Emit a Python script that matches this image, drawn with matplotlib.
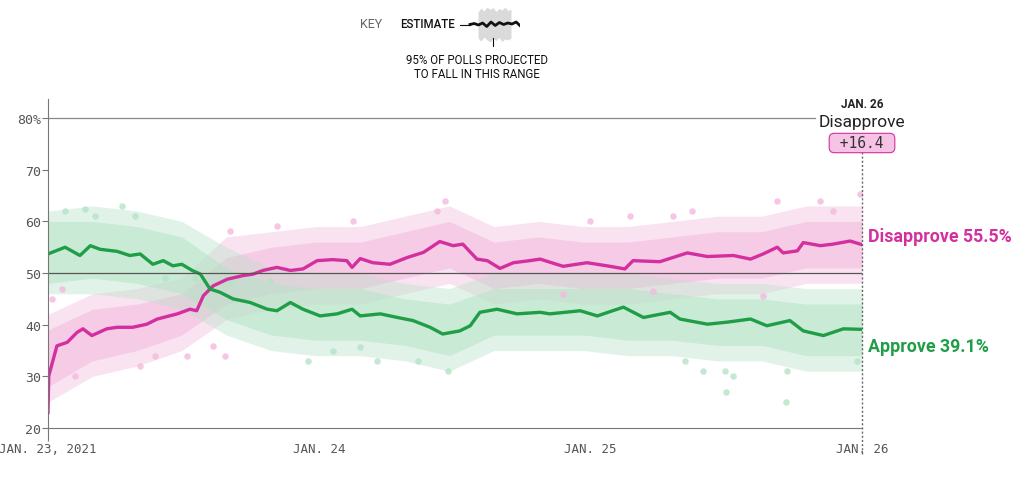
import matplotlib
matplotlib.use("Agg")
import matplotlib.pyplot as plt

# estimate lines (days since Jan 23, 2021 -> percent)
approve_days = [0, 23, 43, 57, 70, 93, 110, 124, 141, 155, 168, 180, 194, 205, 218, 231,
                249, 272, 295, 308, 326, 343, 366, 389, 409, 420, 447, 470, 491, 514, 531,
                554, 568, 581, 604, 631, 662, 675, 716, 739, 774, 801, 837, 850, 887, 914,
                945, 967, 998, 1016, 1043, 1070, 1095]
approve = [53.7, 55.0, 53.4, 55.3, 54.6, 54.2, 53.4, 53.7, 51.7, 52.4, 51.4, 51.7, 50.5,
           49.8, 46.9, 46.3, 45.0, 44.3, 43.0, 42.7, 44.3, 43.0, 41.7, 42.1, 43.0, 41.7,
           42.1, 41.4, 40.8, 39.5, 38.2, 38.8, 39.8, 42.4, 43.0, 42.1, 42.4, 42.1, 42.7,
           41.7, 43.4, 41.4, 42.4, 41.1, 40.1, 40.5, 41.1, 39.8, 40.8, 38.8, 37.9, 39.2, 39.1]

disapprove_days = [0, 1, 12, 26, 39, 47, 59, 79, 93, 114, 133, 147, 174, 191, 200, 209, 222,
                   241, 262, 276, 289, 308, 326, 343, 362, 383, 402, 409, 420, 437, 460, 483,
                   505, 527, 545, 558, 577, 591, 608, 626, 648, 662, 693, 725, 752, 776, 787,
                   823, 860, 887, 922, 945, 962, 981, 989, 1008, 1016, 1039, 1056, 1079, 1095]
disapprove = [23.0, 30.1, 35.9, 36.6, 38.5, 39.2, 37.9, 39.2, 39.5, 39.5, 40.1, 41.1, 42.1,
              43.0, 42.7, 45.6, 47.5, 48.8, 49.5, 49.8, 50.5, 51.1, 50.5, 50.8, 52.4, 52.6,
              52.4, 51.1, 52.8, 52.0, 51.7, 53.0, 54.0, 56.1, 55.3, 55.6, 52.7, 52.4, 50.9,
              52.0, 52.4, 52.7, 51.3, 52.0, 51.4, 50.8, 52.4, 52.2, 53.9, 53.2, 53.4, 52.7,
              53.7, 55.0, 53.9, 54.3, 55.9, 55.3, 55.6, 56.2, 55.5]

# 95% poll ranges: dense core and sparse outer edge
band_days = [0, 60, 120, 180, 240, 300, 360, 420, 480, 540, 600, 660, 720, 780, 840, 900,
             960, 1020, 1095]
approve_hi = [60, 60, 59, 57, 51, 48, 47, 47, 45, 44, 47, 47, 47, 47, 46, 45, 45, 44, 44]
approve_lo = [48, 49, 48, 46, 41, 38, 37, 37, 36, 34, 38, 38, 38, 37, 37, 36, 36, 34, 34]
approve_out_hi = [62, 63, 62, 60, 55, 51, 50, 50, 48, 47, 50, 50, 50, 50, 49, 48, 48, 47, 47]
approve_out_lo = [46, 46, 45, 43, 38, 35, 34, 34, 33, 31, 35, 35, 35, 34, 34, 33, 33, 31, 31]
disapprove_hi = [39, 43, 44, 46, 53, 55, 56, 56, 58, 60, 56, 57, 56, 56, 57, 58, 58, 60, 60]
disapprove_lo = [28, 33, 35, 38, 44, 46, 47, 47, 49, 51, 47, 48, 47, 47, 48, 49, 49, 51, 51]
disapprove_out_hi = [42, 46, 47, 49, 57, 58, 59, 59, 61, 63, 59, 60, 59, 59, 60, 61, 61, 63, 63]
disapprove_out_lo = [25, 30, 32, 35, 41, 43, 44, 44, 46, 48, 44, 45, 44, 44, 45, 46, 46, 48, 48]

# individual polls outside the dense range
pink_dot_days = [534, 523, 410, 245, 308, 981, 1039, 1092, 866, 841, 729, 783, 1056, 36,
                 124, 144, 187, 238, 222, 5, 19, 693, 814, 962]
pink_dot_vals = [64, 62, 60, 58.1, 59.1, 63.9, 64, 65.3, 62, 61, 60.1, 61, 62, 30, 32, 34,
                 34, 34, 35.9, 45, 47, 46, 46.5, 45.5]
green_dot_days = [350, 538, 443, 498, 383, 420, 857, 881, 922, 994, 911, 1088, 912, 993,
                  100, 50, 23, 117, 63, 157, 198, 245, 299]
green_dot_vals = [33, 31, 33, 33, 34.9, 35.7, 33, 31, 30, 31, 31, 33, 27, 25, 63, 62.4, 62,
                  61, 61, 49, 49, 48, 48.5]

tick_days = [0, 365, 730, 1095]
tick_labels = ["JAN. 23, 2021", "JAN. 24", "JAN. 25", "JAN. 26"]
key_squiggle = [0.0, 0.2, -0.1, 0.3, -0.4, 0.5, -0.2, 0.4, 0.0, 0.3, 0.1, 0.5, -0.3]
key_band_hi = [4.0, 4.8, 4.2, 5.0, 4.5, 4.9, 4.1, 4.7, 4.4, 5.0, 4.3, 4.6]
key_band_lo = [-1.2, -1.8, -1.0, -1.6, -2.0, -1.3, -1.7, -1.1, -1.9, -1.4, -1.6, -1.2]

MAGENTA = "#d42f9e"
GREEN = "#1f9e47"
PINK = "#f4b9de"
MINT = "#b6e3c6"
MONO = "DejaVu Sans Mono"
SANS = "Roboto"

fig = plt.figure(figsize=(10.15, 4.81), dpi=100)
ax = fig.add_axes([48 / 1015, 52 / 481, 814 / 1015, 329 / 481])

ax.fill_between(band_days, disapprove_out_lo, disapprove_out_hi, color=PINK, alpha=0.4, lw=0)
ax.fill_between(band_days, disapprove_lo, disapprove_hi, color=PINK, alpha=0.55, lw=0)
ax.fill_between(band_days, approve_out_lo, approve_out_hi, color=MINT, alpha=0.4, lw=0)
ax.fill_between(band_days, approve_lo, approve_hi, color=MINT, alpha=0.55, lw=0)
ax.scatter(pink_dot_days, pink_dot_vals, s=22, color=PINK, alpha=0.8, lw=0)
ax.scatter(green_dot_days, green_dot_vals, s=22, color=MINT, alpha=0.8, lw=0)

ax.plot(disapprove_days, disapprove, color=MAGENTA, lw=2.4, solid_joinstyle="round")
ax.plot(approve_days, approve, color=GREEN, lw=2.4, solid_joinstyle="round")

ax.set_xlim(0, 1095)
ax.set_ylim(20, 83.7)
for s in ["top", "right"]:
    ax.spines[s].set_visible(False)
for s in ["left", "bottom"]:
    ax.spines[s].set_color("#777777")
    ax.spines[s].set_linewidth(0.8)

ax.axhline(80, xmin=0, xmax=(815 - 48) / 814, color="#888888", lw=0.9)
ax.axhline(50, color="#555555", lw=0.9)
ax.axvline(1095, ymin=-0.08, ymax=0.84, color="#666666", lw=1, ls=(0, (1.5, 1.5)),
           clip_on=False)

ax.set_yticks([20, 30, 40, 50, 60, 70, 80])
ax.set_yticklabels(["20", "30", "40", "50", "60", "70", "80%"])
ax.tick_params(axis="y", length=4, color="#777777", labelsize=9.5, labelcolor="#555555",
               pad=1)
ax.set_xticks(tick_days)
ax.set_xticklabels(tick_labels)
ax.tick_params(axis="x", length=9, color="#777777", labelsize=9.0, labelcolor="#555555",
               pad=1)
for lab in ax.get_xticklabels() + ax.get_yticklabels():
    lab.set_family(MONO)
for t in ax.xaxis.get_major_ticks()[1:]:
    t.tick1line.set_visible(False)

# end labels
ax.text(1103, disapprove[-1] + 1.6, "Disapprove 55.5%", color=MAGENTA, fontsize=12.8,
        fontweight="bold", family=SANS, va="center", ha="left", clip_on=False)
ax.text(1103, approve[-1] - 3.3, "Approve 39.1%", color=GREEN, fontsize=12.8,
        fontweight="bold", family=SANS, va="center", ha="left", clip_on=False)

# top annotation
fig.text(862 / 1015, 1 - 104 / 481, "JAN. 26", fontsize=8.5, fontweight="bold",
         family=SANS, ha="center", va="center", color="#222222")
fig.text(862 / 1015, 1 - 122 / 481, "Disapprove", fontsize=12.5, family=SANS,
         ha="center", va="center", color="#222222")
fig.text(862 / 1015, 1 - 144 / 481, " +16.4 ", fontsize=10.5, family=MONO,
         ha="center", va="center", color="#333333",
         bbox=dict(boxstyle="round,pad=0.15,rounding_size=0.35", fc="#f6c3e6",
                   ec=MAGENTA, lw=0.8))

# key
fig.text(360 / 1015, 1 - 25 / 481, "KEY", fontsize=9, family=SANS, color="#666666",
         ha="left", va="center")
fig.text(400 / 1015, 1 - 25 / 481, "ESTIMATE", fontsize=8.3, family=SANS,
         fontweight="medium", color="#111111", ha="left", va="center")
fig.text(477 / 1015, 1 - 60 / 481, "95% OF POLLS PROJECTED", fontsize=8.3,
         family=SANS, color="#111111", ha="center", va="center")
fig.text(477 / 1015, 1 - 74 / 481, "TO FALL IN THIS RANGE", fontsize=8.3,
         family=SANS, color="#111111", ha="center", va="center")

kax = fig.add_axes([460 / 1015, 1 - 48 / 481, 60 / 1015, 40 / 481])
kax.axis("off")
kax.set_xlim(0, 60)
kax.set_ylim(-3, 5)
kax.fill_between([18 + 3 * i for i in range(len(key_band_hi))], key_band_lo, key_band_hi,
                 color="#dadada", lw=0)
kax.plot([0, 10], [1.5, 1.5], color="#111111", lw=0.8)
kax.plot([10 + 4.2 * i for i in range(len(key_squiggle))], [1.5 + v for v in key_squiggle],
         color="#111111", lw=2)
kax.plot([33, 33], [-3, -1.2], color="#111111", lw=0.8)

fig.savefig("out.png", dpi=100)
